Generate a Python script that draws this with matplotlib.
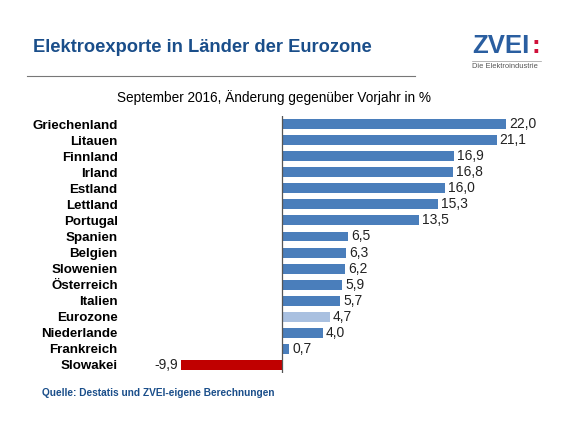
import matplotlib.pyplot as plt

plt.rcParams['font.family'] = ['Liberation Sans', 'DejaVu Sans']

# data
laender = ['Griechenland', 'Litauen', 'Finnland', 'Irland', 'Estland', 'Lettland',
           'Portugal', 'Spanien', 'Belgien', 'Slowenien', 'Österreich', 'Italien',
           'Eurozone', 'Niederlande', 'Frankreich', 'Slowakei']
werte = [22.0, 21.1, 16.9, 16.8, 16.0, 15.3, 13.5, 6.5, 6.3, 6.2, 5.9, 5.7,
         4.7, 4.0, 0.7, -9.9]

blau = '#4A7EBB'
farben = []
for name, w in zip(laender, werte):
    if name == 'Eurozone':
        farben.append('#A9C0E0')
    elif w < 0:
        farben.append('#C00000')
    else:
        farben.append(blau)

fig = plt.figure(figsize=(5.8, 4.34), dpi=100)
fig.patch.set_facecolor('white')

ax = fig.add_axes([0.3107, 0.1406, 0.579, 0.592])
ypos = list(range(len(laender)))
ax.barh(ypos, werte, height=0.62, color=farben)
ax.set_xlim(-10, 23)
ax.set_ylim(15.5, -0.5)
ax.axvline(0, color='#555555', lw=0.9)

for y, w in zip(ypos, werte):
    txt = f'{w:.1f}'.replace('.', ',')
    if w >= 0:
        ax.text(w + 0.3, y, txt, va='center', ha='left', fontsize=10, color='#222222')
    else:
        ax.text(w - 0.35, y, txt, va='center', ha='right', fontsize=10, color='#222222')

ax.set_xticks([])
ax.set_yticks(ypos)
ax.set_yticklabels(laender, fontweight='bold', fontsize=9.6)
ax.tick_params(axis='y', length=0, pad=45)
for s in ax.spines.values():
    s.set_visible(False)

# header
fig.text(33 / 580, 1 - 48 / 434, 'Elektroexporte in Länder der Eurozone',
         fontsize=13.2, fontweight='bold', color='#1A4E8A', va='center', ha='left')
fig.add_artist(plt.Line2D([27 / 580, 415 / 580], [1 - 76 / 434, 1 - 76 / 434],
                          color='#777777', lw=0.8))
fig.text(274 / 580, 1 - 98 / 434, 'September 2016, Änderung gegenüber Vorjahr in %',
         fontsize=9.8, va='center', ha='center')

# logo
fig.text(472 / 580, 1 - 46 / 434, 'ZVEI', fontsize=18.5, fontweight='bold',
         color='#2A5EA0', va='center', ha='left')
fig.text(531 / 580, 1 - 46 / 434, ':', fontsize=18.5, fontweight='bold',
         color='#D0103A', va='center', ha='left')
fig.add_artist(plt.Line2D([472 / 580, 541 / 580], [1 - 61 / 434, 1 - 61 / 434],
                          color='#999999', lw=0.5))
fig.text(472 / 580, 1 - 66 / 434, 'Die Elektroindustrie', fontsize=5.4,
         color='#555555', va='center', ha='left')

# source
fig.text(42 / 580, 1 - 393 / 434, 'Quelle: Destatis und ZVEI-eigene Berechnungen',
         fontsize=7.25, fontweight='bold', color='#1A4E8A', va='center', ha='left')

fig.savefig('out.png', dpi=100)
